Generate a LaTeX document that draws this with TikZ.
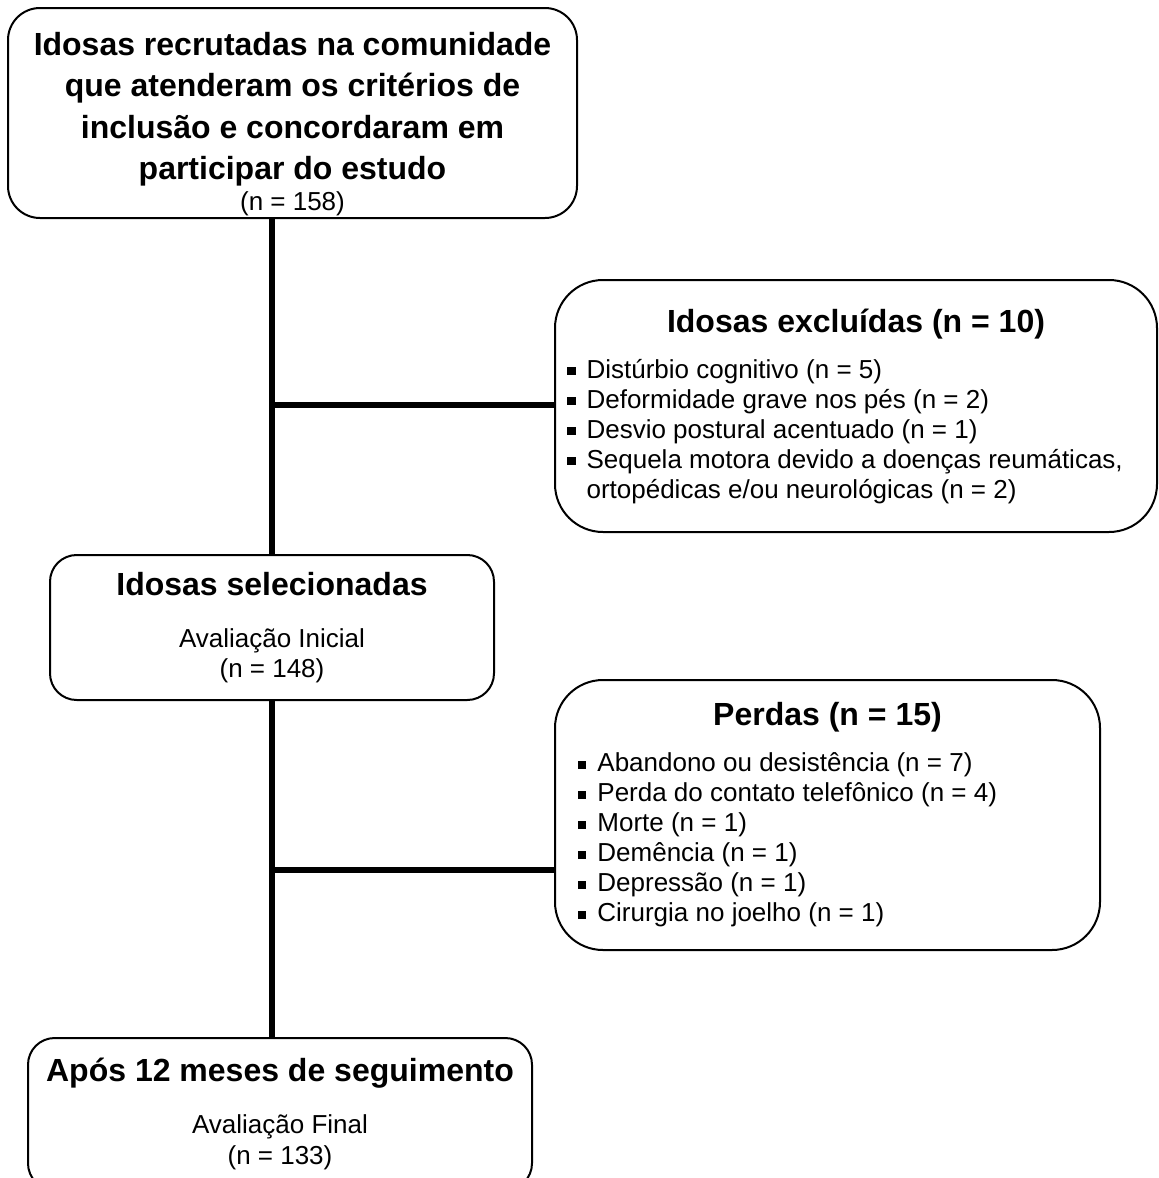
\documentclass[tikz,border=0pt]{standalone}
\usepackage{fontspec}
\setmainfont{Liberation Sans}
\usetikzlibrary{positioning}

\newcommand{\titlefont}{\fontsize{24}{31}\selectfont\bfseries}
\newcommand{\bodyfont}{\fontsize{19.5}{22.5}\selectfont\mdseries}
\newcommand{\sq}{\rule[0.22ex]{0.32em}{0.32em}\hspace{0.42em}}

\tikzset{
	box/.style={draw, line width=1.5pt, rounded corners=24pt, align=center, inner sep=0pt, font=\titlefont},
	trunk/.style={line width=4.5pt},
}

\begin{document}
\begin{tikzpicture}[x=0.75pt, y=-0.75pt]
	\useasboundingbox (0, 0) rectangle (1158, 1178);

	% main column
	\node[box, minimum width=426.75pt, minimum height=157.5pt] (recr) at (292.5, 113)
		{\rule{0pt}{34pt}Idosas recrutadas na comunidade\\ que atenderam os critérios de\\ inclusão e concordaram em\\ participar do estudo\\[-8pt]
		 \bodyfont (n = 158)};
	\node[box, rounded corners=20pt, minimum width=333pt, minimum height=108.75pt] (sel) at (272, 627.5)
		{Idosas selecionadas\\[8pt] \bodyfont Avaliação Inicial\\[-8pt] \bodyfont (n = 148)};
	\node[box, rounded corners=20pt, minimum width=378pt, minimum height=114pt] (final) at (280, 1114)
		{Após 12 meses de seguimento\\[8pt] \bodyfont Avaliação Final\\[-8pt] \bodyfont (n = 133)};

	% side boxes
	\node[box, rounded corners=36pt, minimum width=451.5pt, minimum height=189pt] (excl) at (856, 406)
		{\parbox{433pt}{{\centering\titlefont Idosas excluídas (n = 10)\par}\vspace{12pt}
		 \raggedright\bodyfont
		 \sq Distúrbio cognitivo (n = 5)\\
		 \sq Deformidade grave nos pés (n = 2)\\
		 \sq Desvio postural acentuado (n = 1)\\
		 \sq Sequela motora devido a doenças reumáticas,\\
		 \phantom{\sq}ortopédicas e/ou neurológicas (n = 2)}};
	\node[box, rounded corners=36pt, minimum width=408.75pt, minimum height=202.5pt] (perdas) at (827.5, 815)
		{\parbox{374pt}{{\centering\titlefont Perdas (n = 15)\par}\vspace{12pt}
		 \raggedright\bodyfont
		 \sq Abandono ou desistência (n = 7)\\
		 \sq Perda do contato telefônico (n = 4)\\
		 \sq Morte (n = 1)\\
		 \sq Demência (n = 1)\\
		 \sq Depressão (n = 1)\\
		 \sq Cirurgia no joelho (n = 1)}};

	% connectors
	\coordinate (cut1) at (272, 405);
	\coordinate (cut2) at (272, 870);
	\draw[trunk] (sel.north |- recr.south) -- (sel.north);
	\draw[trunk] (sel.south) -- (sel.south |- final.north);
	\draw[trunk] (cut1) -- (cut1 -| excl.west);
	\draw[trunk] (cut2) -- (cut2 -| perdas.west);
\end{tikzpicture}
\end{document}
